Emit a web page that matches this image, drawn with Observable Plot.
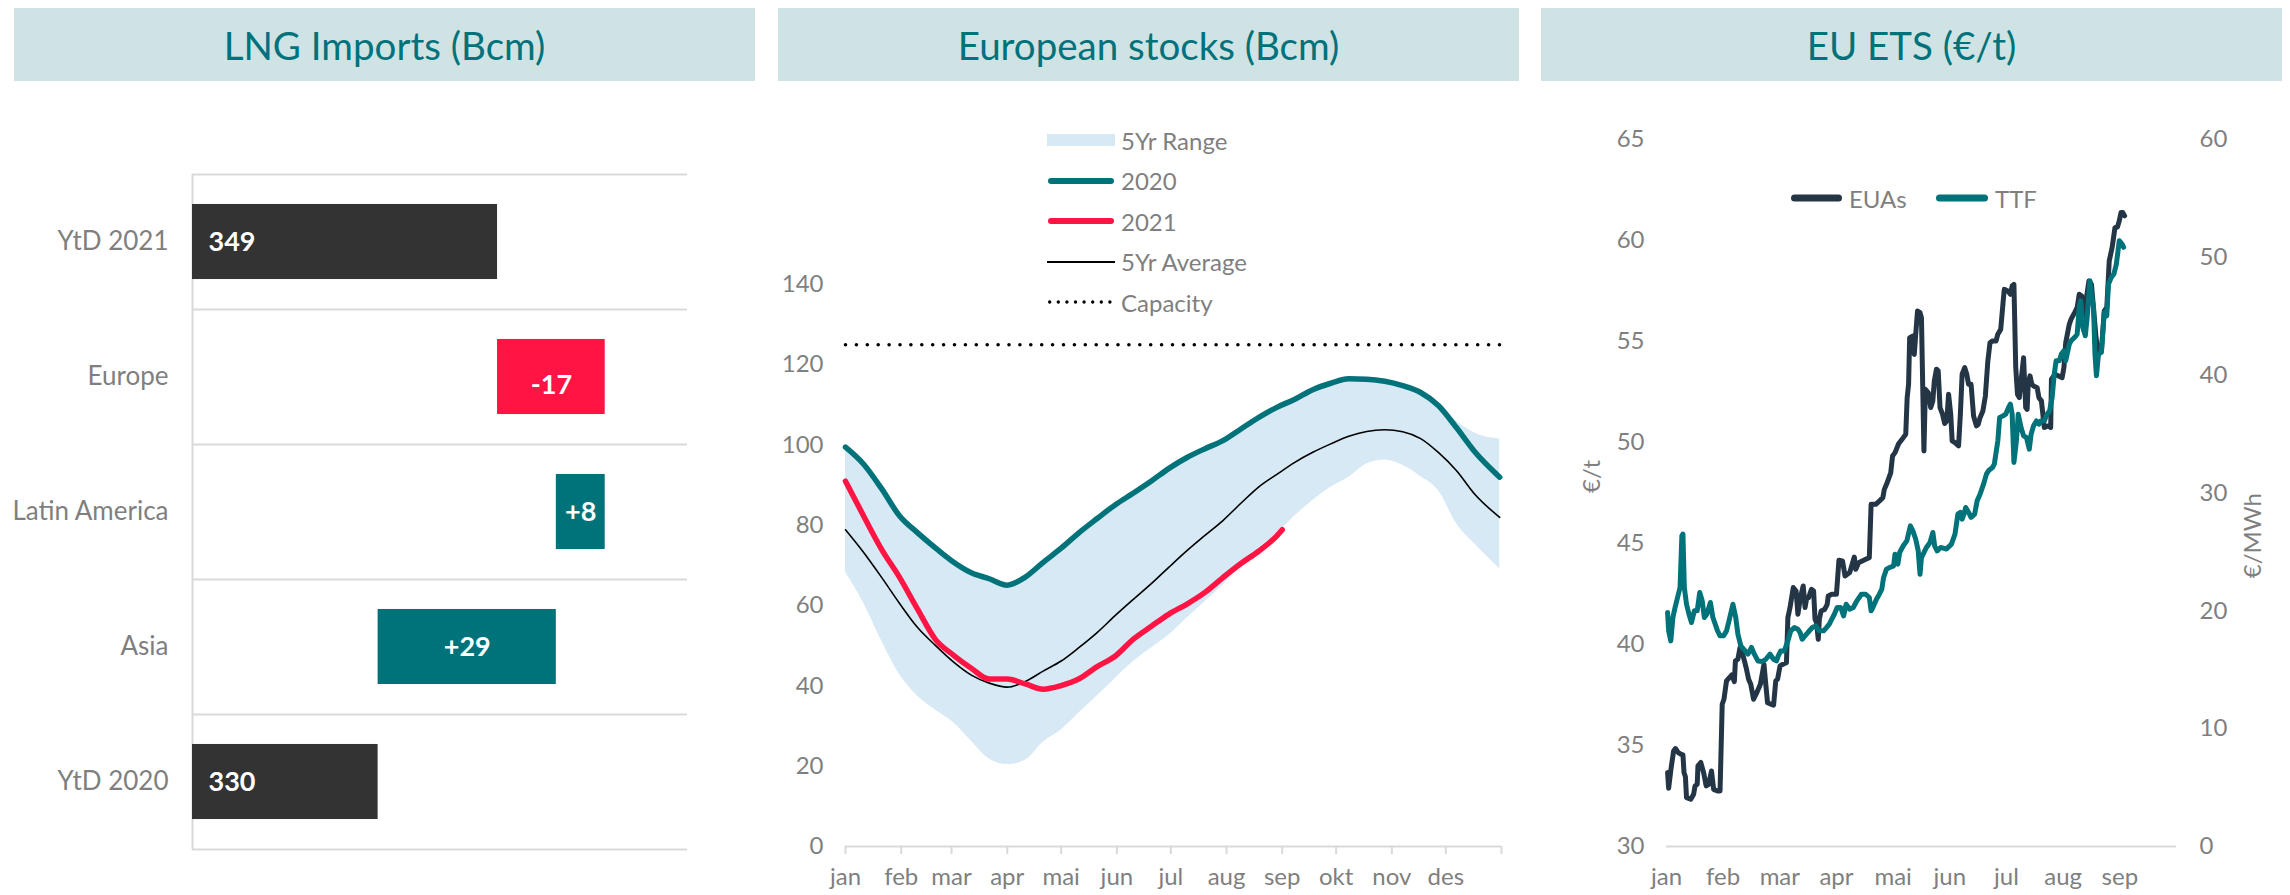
<!DOCTYPE html>
<html><head><meta charset="utf-8">
<script src="https://cdn.jsdelivr.net/npm/d3@7"></script>
<script src="https://cdn.jsdelivr.net/npm/@observablehq/plot@0.6"></script>
<style>
body{margin:0;background:#fff;}
#root{position:relative;width:2290px;height:895px;font-family:Lato,sans-serif;overflow:hidden;background:#fff;}
.band{position:absolute;top:8px;height:73px;width:741px;background:#cfe3e4;color:#00727a;font-size:38.5px;display:flex;align-items:center;justify-content:center;}
.panel{position:absolute;top:90px;}
.leg{position:absolute;font-size:24px;color:#7f7f7f;display:flex;align-items:center;height:30px;white-space:nowrap;}
.sw{position:absolute;}
</style></head><body><div id="root"></div><script>
// ---------- Panel 1: LNG imports waterfall (Bcm) ----------
const lngCategories = ["YtD 2021", "Europe", "Latin America", "Asia", "YtD 2020"];
const lngExact = [349.3, -17.4, 7.9, 28.8, 330.0];
const lngLabels = ["349", "-17", "+8", "+29", "330"];
const lngAxis = [300, 380];

// ---------- Panel 2: European stocks (Bcm), day of year ----------
const stockDays = [0,10,20,30,40,50,60,70,80,90,100,110,120,130,140,150,160,170,180,190,200,210,220,230,240,250,260,270,280,290,300,310,320,330,340,350,364];
const stocks2020 = [99.5,95.3,89.2,82.4,78.2,74.4,70.9,68.2,66.7,65.1,67.1,70.8,74.3,78.2,81.7,85.1,88.0,91.0,94.2,96.9,99.1,101.1,104.0,106.9,109.4,111.4,113.8,115.4,116.5,116.4,115.9,114.8,113.1,109.8,104.3,98.4,92.0];
const stocksAvg = [78.9,73.3,67.1,60.6,54.6,50.1,46.0,42.7,40.7,39.7,41.1,43.7,46.2,49.6,53.3,57.5,61.5,65.4,69.6,73.7,77.5,81.2,85.5,89.6,92.7,95.7,98.2,100.3,102.2,103.4,103.8,103.3,101.6,98.1,93.6,87.8,82.0];
const rangeHigh = [99.5,95.3,89.2,82.4,78.2,74.4,70.9,68.2,66.7,65.1,67.1,70.8,74.3,78.2,81.7,85.1,88.0,91.0,94.2,96.9,99.1,101.1,104.0,106.9,109.4,111.4,113.8,115.4,116.5,116.4,115.9,114.8,113.1,109.8,106.0,103.0,101.5];
const rangeLow = [68.3,60.7,51.3,42.9,37.5,34.0,30.9,26.2,21.8,20.4,21.5,26.0,29.0,33.3,37.5,41.8,46.0,49.4,52.7,56.9,61.0,65.1,70.1,74.5,77.8,82.3,86.2,89.5,92.0,95.3,96.3,95.0,92.2,88.6,80.4,75.4,69.2];
const days2021 = [0,10,20,30,40,50,60,70,80,90,100,110,120,130,140,150,160,170,180,190,200,210,220,230,240,243];
const stocks2021 = [91.0,82.4,74.1,67.1,59.2,51.6,47.7,44.4,41.7,41.7,40.5,39.2,40.1,41.8,44.8,47.4,51.6,54.8,57.9,60.4,63.3,67.0,70.5,73.6,77.4,78.9];
const capacityDays = [0, 364];
const capacityValues = [125, 125];
const stockMonthNames = ["jan","feb","mar","apr","mai","jun","jul","aug","sep","okt","nov","des"];

// ---------- Panel 3: EU ETS, position in months (trading-day axis) ----------
const etsMonthNames = ["jan","feb","mar","apr","mai","jun","jul","aug","sep"];
const euaT = [0.019,0.038,0.082,0.126,0.158,0.208,0.252,0.29,0.309,0.334,0.353,0.428,0.479,0.504,0.542,0.555,0.605,0.655,0.70,0.744,0.794,0.832,0.90,0.945,0.983,1.014,1.059,1.109,1.153,1.197,1.216,1.26,1.298,1.33,1.405,1.449,1.487,1.537,1.594,1.657,1.72,1.752,1.783,1.846,1.89,1.928,1.96,2.004,2.054,2.117,2.142,2.18,2.237,2.287,2.319,2.363,2.413,2.445,2.476,2.508,2.558,2.596,2.621,2.647,2.678,2.697,2.728,2.791,2.836,2.854,2.917,2.999,3.043,3.106,3.151,3.233,3.314,3.34,3.39,3.516,3.579,3.611,3.692,3.755,3.818,3.844,3.894,3.957,3.989,4.033,4.096,4.178,4.222,4.247,4.272,4.291,4.348,4.373,4.398,4.43,4.474,4.499,4.543,4.568,4.619,4.663,4.70,4.726,4.764,4.795,4.827,4.871,4.909,4.946,4.978,5.016,5.041,5.091,5.154,5.186,5.217,5.262,5.299,5.331,5.375,5.419,5.469,5.501,5.533,5.583,5.627,5.671,5.709,5.753,5.816,5.847,5.898,5.942,5.961,6.024,6.068,6.10,6.131,6.163,6.194,6.226,6.257,6.301,6.339,6.364,6.383,6.415,6.446,6.478,6.541,6.572,6.616,6.667,6.73,6.78,6.793,6.856,6.982,7.013,7.045,7.108,7.139,7.202,7.247,7.284,7.328,7.36,7.454,7.499,7.58,7.62,7.675,7.725,7.77,7.813,7.864,7.914,7.958,7.99,8.021,8.053,8.085];
const euaValues = [33.66,32.88,33.90,34.73,34.85,34.65,34.57,34.54,33.66,33.45,32.42,32.34,32.59,33.0,33.08,33.99,34.16,33.66,33.0,33.08,33.74,32.83,32.75,32.75,37.04,37.29,38.2,38.36,38.49,38.16,39.19,39.27,39.85,39.69,38.86,38.28,38.03,37.29,37.62,38.03,39.02,38.03,37.12,37.04,37.0,38.2,38.28,38.94,39.02,39.1,41.33,41.83,42.82,42.65,41.5,42.32,42.90,41.83,42.32,42.32,42.73,42.65,41.25,41.09,40.26,41.25,41.66,41.74,41.99,42.4,42.49,42.49,44.17,44.14,43.39,43.56,44.33,43.72,44.05,44.22,44.3,46.94,46.94,47.1,47.27,47.68,48.01,48.5,49.33,49.50,49.94,50.24,50.41,52.22,52.88,55.19,55.27,54.36,55.35,56.51,56.43,56.18,49.58,52.63,52.47,51.73,52.06,53.05,53.63,53.55,51.73,51.40,50.94,51.07,52.39,51.40,50.08,49.99,49.83,51.40,53.38,53.71,53.38,52.88,52.88,51.31,50.82,50.90,51.23,51.56,52.30,54.04,54.94,55.03,55.03,55.36,55.60,57.01,57.58,57.50,57.34,57.75,57.83,53.71,52.39,52.22,53.05,54.20,51.73,51.64,52.88,53.30,52.88,52.80,52.71,52.22,52.06,50.74,50.82,50.74,53.13,53.38,53.21,53.71,54.94,55.85,56.1,56.43,56.68,57.34,57.25,56.18,57.99,57.83,55.19,54.36,54.53,56.51,56.68,58.99,59.65,60.64,60.67,60.97,61.38,61.38,61.22];
const ttfT = [0.019,0.038,0.076,0.113,0.151,0.195,0.239,0.271,0.29,0.315,0.353,0.397,0.441,0.491,0.542,0.586,0.63,0.668,0.712,0.775,0.819,0.901,0.945,1.008,1.059,1.103,1.172,1.222,1.26,1.311,1.437,1.50,1.55,1.613,1.689,1.752,1.827,1.89,1.941,1.972,2.016,2.079,2.142,2.193,2.256,2.319,2.357,2.394,2.445,2.495,2.571,2.634,2.697,2.772,2.823,2.873,2.917,2.962,3.012,3.075,3.125,3.17,3.233,3.296,3.359,3.44,3.516,3.579,3.611,3.642,3.705,3.756,3.80,3.831,3.882,3.938,4.008,4.033,4.083,4.115,4.178,4.241,4.304,4.348,4.398,4.442,4.474,4.499,4.587,4.65,4.701,4.732,4.776,4.839,4.94,5.028,5.091,5.142,5.186,5.217,5.249,5.28,5.331,5.375,5.438,5.482,5.533,5.595,5.646,5.69,5.753,5.785,5.847,5.879,5.942,5.986,6.036,6.068,6.10,6.131,6.175,6.207,6.257,6.301,6.352,6.402,6.434,6.478,6.528,6.572,6.604,6.667,6.717,6.761,6.805,6.843,6.875,6.931,6.969,7.013,7.045,7.108,7.139,7.202,7.247,7.284,7.31,7.347,7.391,7.423,7.473,7.498,7.536,7.561,7.587,7.624,7.675,7.725,7.769,7.80,7.851,7.895,7.939,7.99,8.04,8.066];
const ttfValues = [19.86,18.30,17.45,19.43,20.28,21.13,21.98,26.36,26.51,21.98,20.56,19.71,19.01,20.0,20.0,21.55,20.85,19.43,19.71,20.71,19.43,18.30,17.88,17.88,18.30,19.15,20.56,19.43,18.02,17.03,16.32,16.89,16.32,15.75,15.70,15.89,16.32,15.89,15.75,16.18,16.60,16.60,17.45,18.30,18.58,18.44,18.16,17.59,17.87,18.16,18.58,18.72,18.30,18.30,18.58,18.87,19.29,19.71,20.28,20.28,19.57,20.56,20.14,20.28,20.85,21.41,21.41,21.13,20.0,20.28,20.99,21.41,21.84,22.83,23.54,23.68,23.82,24.81,23.96,24.95,25.52,25.94,27.21,26.79,26.08,25.09,23.11,24.52,25.38,25.80,26.65,25.52,25.09,25.38,25.24,25.66,26.51,28.21,28.35,27.78,28.21,28.77,28.35,27.93,28.21,29.34,29.90,30.75,31.60,31.94,32.17,32.45,34.43,36.41,36.55,36.69,37.26,37.54,36.69,32.59,34.43,36.69,35.56,34.85,34.71,33.72,34.99,35.70,36.12,35.84,36.12,36.12,36.69,36.98,38.11,40.09,41.22,41.22,41.79,42.07,41.22,42.63,42.92,43.20,43.48,45.75,46.31,44.05,43.34,44.90,48.01,46.88,45.75,41.79,39.95,41.79,41.93,45.32,45.04,47.73,48.30,48.58,49.43,51.41,51.13,50.85];
const euaAxis = [30, 65];
const ttfAxis = [0, 60];

// ---------- colours ----------
const C = {
  text: "#7f7f7f", grid: "#d9d9d9", dark: "#333333", red: "#ff1443", teal: "#00737a",
  range: "#d6e9f4", navy: "#243546"
};
const baseStyle = {fontFamily: "Lato, sans-serif", fontSize: "24px", color: C.text, background: "transparent", overflow: "visible"};

const root = document.getElementById("root");
function addBand(left, text) {
  const b = document.createElement("div");
  b.className = "band"; b.style.left = left + "px"; b.textContent = text;
  root.appendChild(b);
}
function addPanel(left, svg) {
  const d = document.createElement("div");
  d.className = "panel"; d.style.left = left + "px";
  d.appendChild(svg); root.appendChild(d);
}
const panelLefts = [14, 778, 1541];
addBand(panelLefts[0], "LNG Imports (Bcm)");
addBand(panelLefts[1], "European stocks (Bcm)");
addBand(panelLefts[2], "EU ETS (€/t)");

// ---------- Panel 1 ----------
const lngRows = lngCategories.map((c, i) => ({i, cat: c, value: lngExact[i], label: lngLabels[i], total: i === 0 || i === lngCategories.length - 1}));
{
  const last = lngRows.length - 1;
  lngRows[last].x1 = lngAxis[0]; lngRows[last].x2 = lngRows[last].value;
  let level = lngRows[last].value;
  for (let i = last - 1; i >= 1; i--) {
    const next = level + lngRows[i].value;
    lngRows[i].x1 = Math.min(level, next); lngRows[i].x2 = Math.max(level, next);
    level = next;
  }
  lngRows[0].x1 = lngAxis[0]; lngRows[0].x2 = lngRows[0].value;
}
const barFill = d => d.total ? C.dark : (d.value < 0 ? C.red : C.teal);
const p1 = Plot.plot({
  width: 741, height: 805,
  marginLeft: 178, marginRight: 68, marginTop: 84, marginBottom: 46,
  style: baseStyle,
  x: {domain: lngAxis, axis: null},
  y: {domain: [0, lngCategories.length], reverse: true},
  marks: [
    Plot.ruleY(d3.range(lngCategories.length + 1), {stroke: C.grid, strokeWidth: 2}),
    Plot.ruleX([lngAxis[0]], {stroke: C.grid, strokeWidth: 2}),
    Plot.rect(lngRows, {x1: "x1", x2: "x2", y1: d => d.i + 0.222, y2: d => d.i + 0.778, fill: barFill}),
    Plot.text(lngRows.filter(d => d.total), {x: "x1", y: d => d.i + 0.5, text: "label", dx: 16, textAnchor: "start", fill: "white", fontWeight: "bold", fontSize: 27}),
    Plot.text(lngRows.filter(d => !d.total && d.value >= 0), {x: d => (d.x1 + d.x2) / 2, y: d => d.i + 0.5, text: "label", fill: "white", fontWeight: "bold", fontSize: 27}),
    Plot.text(lngRows.filter(d => !d.total && d.value < 0), {x: d => (d.x1 + d.x2) / 2, y: d => d.i + 0.5, dy: 8, text: "label", fill: "white", fontWeight: "bold", fontSize: 27}),
    Plot.axisY({ticks: lngRows.map(d => d.i + 0.5), tickFormat: t => lngCategories[Math.floor(t)], tickSize: 0, tickPadding: 24, fontSize: 26, label: null})
  ]
});
addPanel(panelLefts[0], p1);

// ---------- Panel 2 ----------
const dayDate = d => new Date(Date.UTC(2021, 0, 1 + d));
const stockTable = stockDays.map((d, i) => ({date: dayDate(d), y2020: stocks2020[i], avg: stocksAvg[i], hi: rangeHigh[i], lo: rangeLow[i]}));
const table2021 = days2021.map((d, i) => ({date: dayDate(d), v: stocks2021[i]}));
const capTable = capacityDays.map((d, i) => ({date: dayDate(d), v: capacityValues[i]}));
const monthTicks = d3.utcMonth.range(new Date(Date.UTC(2021, 0, 1)), new Date(Date.UTC(2022, 0, 2)));
const p2 = Plot.plot({
  width: 741, height: 805,
  marginLeft: 67, marginRight: 18, marginTop: 194, marginBottom: 49,
  style: baseStyle,
  x: {type: "utc", domain: [new Date(Date.UTC(2021, 0, 1)), new Date(Date.UTC(2022, 0, 1))]},
  y: {domain: [0, 140]},
  marks: [
    Plot.axisY({ticks: d3.range(0, 141, 20), tickSize: 0, tickPadding: 22, label: null}),
    Plot.axisX({ticks: monthTicks, tickFormat: d => d.getUTCFullYear() === 2021 ? stockMonthNames[d.getUTCMonth()] : "", tickSize: 8, tickPadding: 13, stroke: C.grid, strokeWidth: 2, label: null}),
    Plot.ruleY([0], {stroke: C.grid, strokeWidth: 2}),
    Plot.areaY(stockTable, {x: "date", y1: "lo", y2: "hi", fill: C.range, curve: "monotone-x"}),
    Plot.line(stockTable, {x: "date", y: "avg", stroke: "black", strokeWidth: 1.6, curve: "monotone-x"}),
    Plot.line(table2021, {x: "date", y: "v", stroke: C.red, strokeWidth: 5.5, curve: "monotone-x", strokeLinecap: "round"}),
    Plot.line(stockTable, {x: "date", y: "y2020", stroke: C.teal, strokeWidth: 5.5, curve: "monotone-x", strokeLinecap: "round"}),
    Plot.line(capTable, {x: "date", y: "v", stroke: "black", strokeWidth: 3.6, strokeDasharray: "0 10.9", strokeLinecap: "round"})
  ]
});
addPanel(panelLefts[1], p2);

// ---------- Panel 3 ----------
const ttfToEua = t => euaAxis[0] + (t - ttfAxis[0]) * (euaAxis[1] - euaAxis[0]) / (ttfAxis[1] - ttfAxis[0]);
const euaToTtf = v => ttfAxis[0] + (v - euaAxis[0]) * (ttfAxis[1] - ttfAxis[0]) / (euaAxis[1] - euaAxis[0]);
const euaTable = euaT.map((t, i) => ({t, v: euaValues[i]}));
const ttfTable = ttfT.map((t, i) => ({t, v: ttfValues[i]}));
const p3 = Plot.plot({
  width: 741, height: 805,
  marginLeft: 125, marginRight: 106, marginTop: 49, marginBottom: 49,
  style: baseStyle,
  x: {domain: [0, etsMonthNames.length]},
  y: {domain: euaAxis},
  marks: [
    Plot.axisY({ticks: d3.range(30, 66, 5), tickSize: 0, tickPadding: 22, label: null}),
    Plot.axisY({anchor: "right", ticks: d3.range(0, 61, 10).map(ttfToEua), tickFormat: d => Math.round(euaToTtf(d)), tickSize: 0, tickPadding: 23, label: null}),
    Plot.axisX({ticks: d3.range(etsMonthNames.length), tickFormat: i => etsMonthNames[i], tickSize: 0, tickPadding: 21, label: null}),
    Plot.ruleY([euaAxis[0]], {stroke: C.grid, strokeWidth: 2}),
    Plot.line(euaTable, {x: "t", y: "v", stroke: C.navy, strokeWidth: 5, strokeLinejoin: "round", strokeLinecap: "round"}),
    Plot.line(ttfTable, {x: "t", y: d => ttfToEua(d.v), stroke: C.teal, strokeWidth: 5, strokeLinejoin: "round", strokeLinecap: "round"}),
    Plot.text(["€/t"], {frameAnchor: "left", rotate: -90, dx: -74, fill: C.text, fontSize: 24}),
    Plot.text(["€/MWh"], {frameAnchor: "right", rotate: -90, dx: 77, fill: C.text, fontSize: 24})
  ]
});
addPanel(panelLefts[2], p3);

// ---------- Legends ----------
function legendItem(x, yc, swatchHtml, swW, label) {
  const sw = document.createElement("div");
  sw.className = "sw";
  sw.style.left = x + "px"; sw.style.top = (yc - 10) + "px"; sw.style.width = swW + "px"; sw.style.height = "20px";
  sw.innerHTML = swatchHtml;
  root.appendChild(sw);
  const t = document.createElement("div");
  t.className = "leg"; t.style.left = (x + swW + 6) + "px"; t.style.top = (yc - 15) + "px";
  t.textContent = label;
  root.appendChild(t);
}
const lineSw = (w, color, sw, extra) => `<svg width="${w}" height="20"><line x1="${sw/2+1}" y1="10" x2="${w - sw/2 - 1}" y2="10" stroke="${color}" stroke-width="${sw}" stroke-linecap="round" ${extra||""}/></svg>`;
const stockLegend = [
  {label: "5Yr Range", sw: `<svg width="68" height="20"><rect x="0" y="4" width="68" height="12" fill="${C.range}"/></svg>`},
  {label: "2020", sw: lineSw(68, C.teal, 6)},
  {label: "2021", sw: lineSw(68, C.red, 6)},
  {label: "5Yr Average", sw: `<svg width="68" height="20"><line x1="0" y1="10" x2="68" y2="10" stroke="black" stroke-width="2"/></svg>`},
  {label: "Capacity", sw: lineSw(68, "black", 3.4, 'stroke-dasharray="0 8.6"')}
];
stockLegend.forEach((d, i) => legendItem(1047, 140 + i * 40.5, d.sw, 68, d.label));
legendItem(1790, 198, lineSw(53, C.navy, 7), 53, "EUAs");
legendItem(1935, 198, lineSw(54, C.teal, 7), 54, "TTF");
</script></body></html>
